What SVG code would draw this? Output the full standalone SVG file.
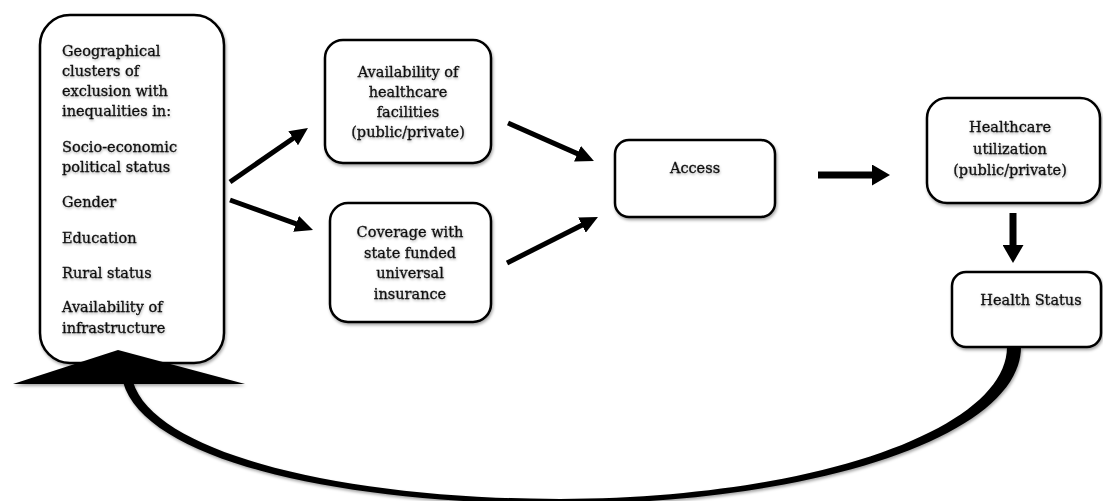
<svg xmlns="http://www.w3.org/2000/svg" width="1103" height="501" viewBox="0 0 1103 501">
<style>
.box{fill:#fff;stroke:#000;stroke-width:2.5;filter:url(#sh)}
.t{font-family:"DejaVu Serif","Liberation Serif",serif;font-size:14.5px;fill:#111;stroke:#111;stroke-width:0.3;filter:url(#tsh)}
.c{text-anchor:middle}
.ln{stroke:#000;stroke-width:5;fill:none;marker-end:url(#ah)}
.lt{stroke:#000;stroke-width:7;fill:none;marker-end:url(#ah2)}
</style>
<defs>
<filter id="sh" x="-10%" y="-10%" width="130%" height="130%"><feDropShadow dx="1" dy="2" stdDeviation="1.5" flood-color="#000" flood-opacity="0.35"/></filter>
<filter id="tsh" x="-10%" y="-30%" width="130%" height="170%"><feDropShadow dx="0.5" dy="1.5" stdDeviation="1" flood-color="#000" flood-opacity="0.3"/></filter>
<marker id="ah" markerUnits="userSpaceOnUse" viewBox="0 0 18 17" markerWidth="18" markerHeight="17" refX="1" refY="8.5" orient="auto"><path d="M0,0 L18,8.5 L0,17 z" fill="#000"/></marker>
<marker id="ah2" markerUnits="userSpaceOnUse" viewBox="0 0 18 21" markerWidth="18" markerHeight="21" refX="1" refY="10.5" orient="auto"><path d="M0,0 L18,10.5 L0,21 z" fill="#000"/></marker>
</defs>

<g id="node-determinants">
<rect class="box" x="40" y="15" width="184" height="348" rx="30"/>
<text class="t" x="62" y="56">Geographical</text>
<text class="t" x="62" y="76">clusters of</text>
<text class="t" x="62" y="96">exclusion with</text>
<text class="t" x="62" y="116">inequalities in:</text>
<text class="t" x="62" y="152">Socio-economic</text>
<text class="t" x="62" y="172">political status</text>
<text class="t" x="62" y="207">Gender</text>
<text class="t" x="62" y="243">Education</text>
<text class="t" x="62" y="278">Rural status</text>
<text class="t" x="62" y="312">Availability of</text>
<text class="t" x="62" y="333">infrastructure</text>
</g>

<g id="node-availability">
<rect class="box" x="325" y="40" width="166" height="123" rx="18"/>
<text class="t c" x="408" y="77">Availability of</text>
<text class="t c" x="408" y="97">healthcare</text>
<text class="t c" x="408" y="117">facilities</text>
<text class="t c" x="408" y="137">(public/private)</text>
</g>

<g id="node-coverage">
<rect class="box" x="330" y="203" width="161" height="119" rx="18"/>
<text class="t c" x="410" y="237">Coverage with</text>
<text class="t c" x="410" y="258">state funded</text>
<text class="t c" x="410" y="278">universal</text>
<text class="t c" x="410" y="299">insurance</text>
</g>

<g id="node-access">
<rect class="box" x="615" y="140" width="160" height="77" rx="14"/>
<text class="t c" x="695" y="173">Access</text>
</g>

<g id="node-utilization">
<rect class="box" x="927" y="98" width="173" height="105" rx="20"/>
<text class="t c" x="1010" y="132">Healthcare</text>
<text class="t c" x="1010" y="154">utilization</text>
<text class="t c" x="1010" y="175">(public/private)</text>
</g>

<g id="node-health-status">
<rect class="box" x="952" y="272" width="149" height="75" rx="14"/>
<text class="t c" x="1031" y="305">Health Status</text>
</g>

<g id="connectors">
<line class="ln" x1="230" y1="182" x2="294" y2="137.7"/>
<line class="ln" x1="230" y1="200" x2="297" y2="224.2"/>
<line class="ln" x1="508" y1="123" x2="578.4" y2="154.1"/>
<line class="ln" x1="507" y1="263" x2="582.8" y2="224.7"/>
<line class="lt" x1="818" y1="175" x2="873" y2="175"/>
<line class="lt" x1="1013" y1="213" x2="1013" y2="246"/>
<path d="M1021,347 C1021,434 822,503 560,504 C348,504 146,463 123,382 L133,382 C156,456 352,499 560,499 C818,498 1007,428 1007,347 Z" fill="#000" filter="url(#sh)"/>
<polygon points="13,384 245,384 118,350" fill="#000" filter="url(#sh)"/>
</g>
</svg>
